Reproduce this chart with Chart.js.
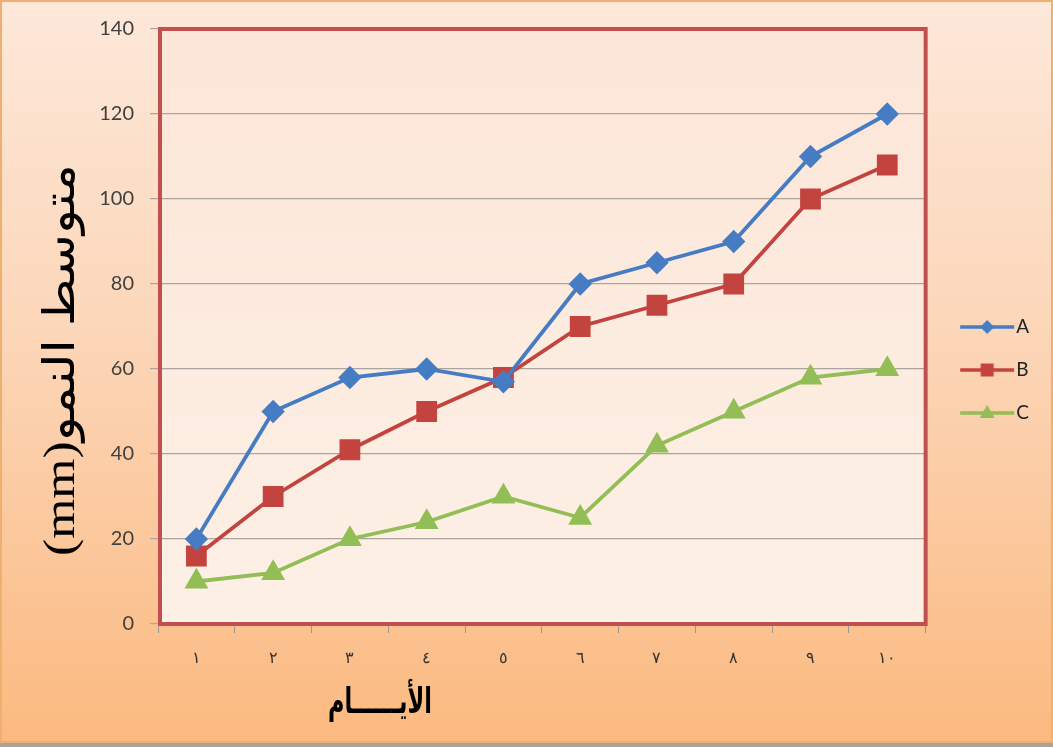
<!DOCTYPE html>
<html>
<head>
<meta charset="utf-8">
<script src="https://cdn.jsdelivr.net/npm/chart.js@4"></script>
<style>
  html, body { margin: 0; padding: 0; background: #fff; }
</style>
</head>
<body>
<canvas id="myChart" width="1053" height="747"></canvas>
<script>
// values
const days = ['١', '٢', '٣', '٤', '٥', '٦', '٧', '٨', '٩', '١٠'];
const seriesNames = ['A', 'B', 'C'];
const seriesA = [20, 50, 58, 60, 57, 80, 85, 90, 110, 120];
const seriesB = [16, 30, 41, 50, 58, 70, 75, 80, 100, 108];
const seriesC = [10, 12, 20, 24, 30, 25, 42, 50, 58, 60];
const yTitle = 'متوسط النمو(mm)';
const xTitle = 'الأيــــــام';

const blue = '#467cc4';
const red = '#c3443f';
const green = '#92be55';

// legend swatch: a short line with the marker on it (like Excel)
function swatch(color, style) {
  const c = document.createElement('canvas');
  c.width = 74; c.height = 20;
  const g = c.getContext('2d');
  g.strokeStyle = color; g.fillStyle = color; g.lineWidth = 3.5;
  g.beginPath(); g.moveTo(19, 10); g.lineTo(73, 10); g.stroke();
  g.beginPath();
  if (style === 'rectRot') {
    g.moveTo(46, 3); g.lineTo(53, 10); g.lineTo(46, 17); g.lineTo(39, 10);
  } else if (style === 'rect') {
    g.rect(39.5, 3.5, 13, 13);
  } else {
    g.moveTo(46, 2); g.lineTo(53.5, 15); g.lineTo(38.5, 15);
  }
  g.closePath(); g.fill();
  return c;
}

// draws text so that it is exactly `len` pixels long
function fitText(ctx, text, len) {
  const w = ctx.measureText(text).width;
  ctx.scale(len / w, 1);
  ctx.fillText(text, 0, 0);
}

const bgPlugin = {
  id: 'bg',
  beforeDraw(chart) {
    const ctx = chart.ctx, w = chart.width, h = chart.height;
    const grd = ctx.createLinearGradient(0, 0, 0, h);
    grd.addColorStop(0, '#fde8da');
    grd.addColorStop(0.45, '#fcd6b8');
    grd.addColorStop(1, '#fbb97f');
    ctx.save();
    ctx.fillStyle = grd;
    ctx.fillRect(0, 0, w, h);
    ctx.strokeStyle = '#eeb06e';
    ctx.lineWidth = 2;
    ctx.strokeRect(1, 1, w - 2, h - 6);
    ctx.fillStyle = '#a9a39d';
    ctx.fillRect(0, h - 4, w, 4);
    const a = chart.chartArea;
    const pg = ctx.createLinearGradient(0, a.top, 0, a.bottom);
    pg.addColorStop(0, '#fce6d8');
    pg.addColorStop(1, '#fdf0e6');
    ctx.fillStyle = pg;
    ctx.fillRect(a.left, a.top, a.right - a.left, a.bottom - a.top);
    ctx.restore();
  },
  beforeDatasetsDraw(chart) {
    const ctx = chart.ctx, a = chart.chartArea;
    ctx.save();
    ctx.strokeStyle = '#c0504d';
    ctx.lineWidth = 4;
    ctx.strokeRect(a.left + 2, a.top, a.right - a.left - 2, a.bottom - a.top);
    ctx.restore();
  },
  afterDraw(chart) {
    const ctx = chart.ctx, a = chart.chartArea;
    ctx.fillStyle = '#000';
    ctx.textAlign = 'center';
    ctx.textBaseline = 'middle';
    // x axis title
    ctx.save();
    ctx.font = 'bold 36px "DejaVu Sans"';
    ctx.translate(a.left + 222, a.bottom + 80);
    fitText(ctx, xTitle, 104);
    ctx.restore();
    // y axis title
    ctx.save();
    ctx.translate(62, a.top + 331);
    ctx.rotate(-Math.PI / 2);
    ctx.direction = 'rtl';
    ctx.font = '44px "Liberation Serif", "DejaVu Sans"';
    fitText(ctx, yTitle, 392);
    ctx.restore();
  }
};

const myChart = new Chart('myChart', {
  type: 'line',
  data: {
    labels: days,
    datasets: [
      { label: seriesNames[0], data: seriesA, borderColor: blue, backgroundColor: blue,
        pointStyle: 'rectRot', pointRadius: 9, borderWidth: 3.8 },
      { label: seriesNames[1], data: seriesB, borderColor: red, backgroundColor: red,
        pointStyle: 'rect', pointRadius: 12, borderWidth: 3.8 },
      { label: seriesNames[2], data: seriesC, borderColor: green, backgroundColor: green,
        pointStyle: 'triangle', pointRadius: 10, borderWidth: 3.8 }
    ]
  },
  options: {
    responsive: false,
    animation: false,
    layout: { padding: { left: 0, top: 29, right: 14, bottom: 36 } },
    elements: { line: { tension: 0 }, point: { borderWidth: 0 } },
    plugins: {
      tooltip: { enabled: false },
      legend: {
        position: 'right',
        labels: {
          usePointStyle: true,
          pointStyleWidth: 57,
          padding: 24,
          color: '#222',
          font: { family: 'Lato', size: 19 },
          generateLabels(chart) {
            return chart.data.datasets.map((ds, i) => ({
              text: ds.label,
              pointStyle: swatch(ds.borderColor, ds.pointStyle),
              fillStyle: ds.borderColor,
              strokeStyle: ds.borderColor,
              lineWidth: 0,
              fontColor: '#222',
              datasetIndex: i
            }));
          }
        }
      }
    },
    scales: {
      x: {
        offset: true,
        border: { display: false },
        grid: { offset: true, drawOnChartArea: false, tickLength: 9, color: '#9c9590' },
        ticks: { color: '#333', padding: 16, font: { family: '"DejaVu Serif"', size: 16 } },
        afterFit(scale) { scale.height = 87; }
      },
      y: {
        min: 0,
        max: 140,
        border: { display: false },
        grid: { color: '#aca49e', lineWidth: 1.2, tickLength: 8 },
        ticks: { stepSize: 20, padding: 16, color: '#404040', font: { family: 'Lato', size: 20 } },
        afterFit(scale) { scale.width = 158; }
      }
    }
  },
  plugins: [bgPlugin]
});
</script>
</body>
</html>
